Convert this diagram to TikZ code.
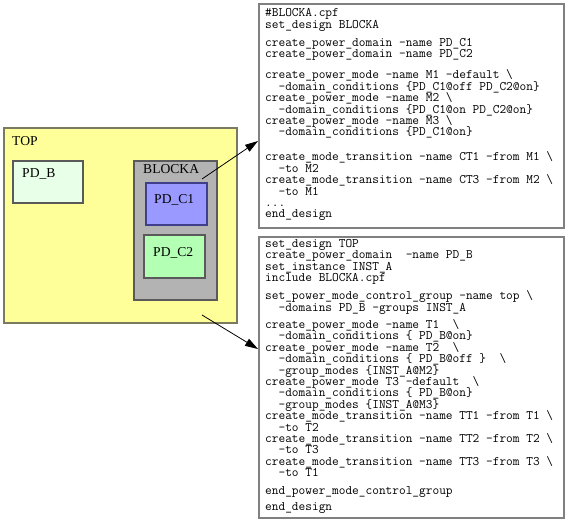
\documentclass[tikz,border=0pt]{standalone}
\usepackage{fontspec}
\setmainfont{Liberation Serif}
\setmonofont{Latin Modern Mono}
\usetikzlibrary{arrows.meta}
\definecolor{topyellow}{HTML}{FFFF99}
\definecolor{topborder}{HTML}{7A7A60}
\definecolor{pdbfill}{HTML}{E8FFE8}
\definecolor{blockfill}{HTML}{B3B3B3}
\definecolor{cOnefill}{HTML}{9999FF}
\definecolor{cTwofill}{HTML}{B3FFB3}
\definecolor{boxborder}{HTML}{5A5A5A}
\definecolor{codeborder}{HTML}{808080}
\newcommand\mycodefont{\ttfamily\fontsize{13}{11.4}\selectfont\lineskiplimit=-20pt\relax\lineskip=0pt\relax}
\tikzset{
  region/.style={draw=boxborder, line width=1.3pt, anchor=north west, inner sep=0pt, outer sep=0pt},
  codebox/.style={draw=codeborder, fill=white, line width=1.6pt, anchor=north west, inner sep=0pt, outer sep=0pt},
  codetext/.style={anchor=north west, align=left, inner sep=0pt, font=\mycodefont},
  lbl/.style={anchor=base west, inner sep=0pt, font=\fontsize{13.6}{15}\selectfont},
  pointer/.style={draw=black, line width=0.8pt, -{Triangle[length=13pt,width=8pt]}}
}
\begin{document}
\begin{tikzpicture}[x=1pt,y=-1pt]
\useasboundingbox (0,0) rectangle (567,527);
% left diagram
\node[region, draw=topborder, fill=topyellow, minimum width=233pt, minimum height=195pt] (top) at (4,128) {};
\node[region, fill=pdbfill, minimum width=70pt, minimum height=42pt] (pdb) at (13,161) {};
\node[region, fill=blockfill, minimum width=83pt, minimum height=139pt] (blocka) at (134,161) {};
\node[region, draw=boxborder!70!blue, fill=cOnefill, minimum width=61pt, minimum height=42pt] (pdcone) at (146,183) {};
\node[region, fill=cTwofill, minimum width=61pt, minimum height=43pt] (pdctwo) at (144,235) {};
\node[lbl] (toplbl) at (12,145) {TOP};
\node[lbl] (pdblbl) at (22,177) {PD\_B};
\node[lbl] (blockalbl) at (143,173) {BLOCKA};
\node[lbl] (pdconelbl) at (154,203) {PD\_C1};
\node[lbl] (pdctwolbl) at (153,256) {PD\_C2};
% code boxes
\node[codebox, minimum width=305pt, minimum height=224pt] (codea) at (259,4) {};
\node[codebox, minimum width=305pt, minimum height=281pt] (codeb) at (259,237) {};
\node[codetext] (codeatext) at (265,7.5) {\rule{0pt}{9pt}\#BLOCKA.cpf\\
set\_design BLOCKA\\[6.6pt]
create\_power\_domain -name PD\_C1\\
create\_power\_domain -name PD\_C2\\[10pt]
create\_power\_mode -name M1 -default \textbackslash\\
~~-domain\_conditions \{PD\_C1@off PD\_C2@on\}\\
create\_power\_mode -name M2 \textbackslash\\
~~-domain\_conditions \{PD\_C1@on PD\_C2@on\}\\
create\_power\_mode -name M3 \textbackslash\\
~~-domain\_conditions \{PD\_C1@on\}\\[13.6pt]
create\_mode\_transition -name CT1 -from M1 \textbackslash\\
~~-to M2\\
create\_mode\_transition -name CT3 -from M2 \textbackslash\\
~~-to M1\\
...\\
end\_design};
\node[codetext] (codebtext) at (265,238.3) {\rule{0pt}{9pt}set\_design TOP\\
create\_power\_domain~~-name PD\_B\\
set\_instance INST\_A\\
include BLOCKA.cpf\\[6.5pt]
set\_power\_mode\_control\_group -name top \textbackslash\\
~~-domains PD\_B -groups INST\_A\\[6pt]
create\_power\_mode -name T1~~\textbackslash\\
~~-domain\_conditions \{ PD\_B@on\}\\
create\_power\_mode -name T2~~\textbackslash\\
~~-domain\_conditions \{ PD\_B@off \}~~\textbackslash\\
~~-group\_modes \{INST\_A@M2\}\\
create\_power\_mode T3 -default~~\textbackslash\\
~~-domain\_conditions \{ PD\_B@on\}\\
~~-group\_modes \{INST\_A@M3\}\\
create\_mode\_transition -name TT1 -from T1 \textbackslash\\
~~-to T2\\
create\_mode\_transition -name TT2 -from T2 \textbackslash\\
~~-to T3\\
create\_mode\_transition -name TT3 -from T3 \textbackslash\\
~~-to T1\\[6.5pt]
end\_power\_mode\_control\_group\\[5pt]
end\_design};
% pointers
\coordinate (sone) at (202,179);
\coordinate (eone) at (258,141);
\coordinate (stwo) at (202,315);
\coordinate (etwo) at (258,349);
\draw[pointer] (sone) -- (eone);
\draw[pointer] (stwo) -- (etwo);
\end{tikzpicture}
\end{document}
